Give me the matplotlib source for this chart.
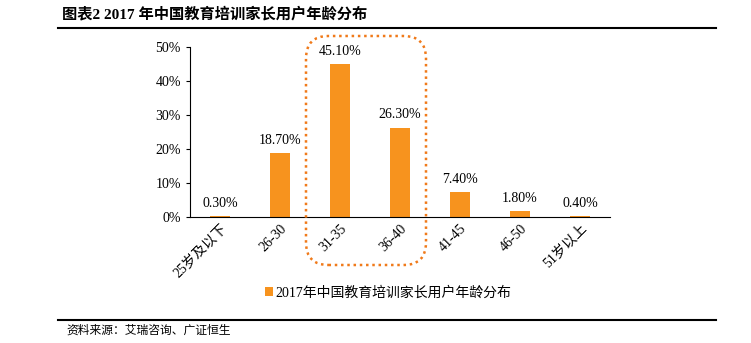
import matplotlib
matplotlib.use("Agg")
import matplotlib.pyplot as plt
from matplotlib.patches import FancyBboxPatch, Patch
from matplotlib.lines import Line2D

categories = ["25岁及以下", "26-30", "31-35", "36-40", "41-45", "46-50", "51岁以上"]
values = [0.3, 18.7, 45.1, 26.3, 7.4, 1.8, 0.4]
labels = ["0.30%", "18.70%", "45.10%", "26.30%", "7.40%", "1.80%", "0.40%"]
yticks = [0, 10, 20, 30, 40, 50]
series_name = "2017年中国教育培训家长用户年龄分布"
title = "图表2 2017 年中国教育培训家长用户年龄分布"
source = "资料来源：艾瑞咨询、广证恒生"

FONT = ["Liberation Serif", "Noto Sans CJK SC"]
plt.rcParams["font.family"] = FONT
ORANGE = "#F7931E"

W, H = 751, 343
fig = plt.figure(figsize=(W / 100, H / 100), dpi=100)

def fx(x):
    return x / W

def fy(y):
    return 1 - y / H

ax = fig.add_axes([fx(190), fy(217), fx(610) - fx(190), fy(47) - fy(217)])
x = list(range(len(categories)))
ax.bar(x, values, width=0.32, color=ORANGE, zorder=2)
for xi, v, lab in zip(x, values, labels):
    ax.text(xi, v + 1.8, lab, ha="center", va="bottom", fontsize=10, color="#000000")
ax.set_xlim(-0.5, len(categories) - 0.5)
ax.set_ylim(0, 50)
ax.set_yticks(yticks)
ax.set_yticklabels([f"{t}%" for t in yticks], fontsize=10)
ax.set_xticks(x)
ax.set_xticklabels(categories, rotation=45, ha="right", rotation_mode="anchor", fontsize=10)
for s in ["top", "right"]:
    ax.spines[s].set_visible(False)
ax.spines["left"].set_color("#000000")
ax.spines["bottom"].set_color("#000000")
ax.tick_params(axis="y", length=3, width=0.8, direction="out")
ax.tick_params(axis="x", length=0)

# dotted rounded highlight box
box = FancyBboxPatch((fx(306), fy(265)), fx(426) - fx(306), fy(36) - fy(265),
                     boxstyle="round,pad=0,rounding_size=0.03",
                     transform=fig.transFigure, fill=False, edgecolor="#F07A1A",
                     linestyle=(0, (1, 1.5)), linewidth=1.8, mutation_aspect=W / H)
fig.add_artist(box)

# legend
fig.legend(handles=[Patch(facecolor=ORANGE, edgecolor="none")], labels=[series_name],
           loc="center", bbox_to_anchor=(fx(388), fy(293)), frameon=False,
           fontsize=10, handlelength=0.6, handleheight=0.6, handletextpad=0.2)

# title and rules
fig.text(fx(62), fy(14), title, fontsize=11, fontweight="bold", va="center", ha="left")
fig.add_artist(Line2D([fx(58), fx(716)], [fy(28), fy(28)], color="#000000", linewidth=1.5, transform=fig.transFigure))
fig.add_artist(Line2D([fx(58), fx(716)], [fy(320), fy(320)], color="#000000", linewidth=1.5, transform=fig.transFigure))
fig.text(fx(66), fy(331), source, fontsize=8.5, va="center", ha="left")

fig.savefig("out.png", dpi=100)
